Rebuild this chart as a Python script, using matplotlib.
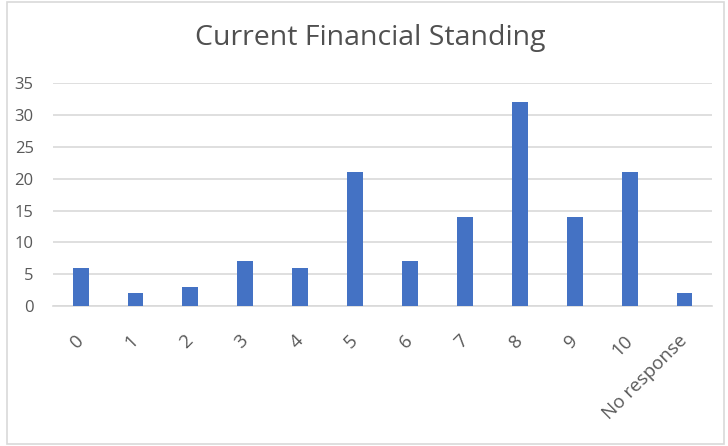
import matplotlib.pyplot as plt
from matplotlib.patches import Rectangle

# データ
categories = ["0", "1", "2", "3", "4", "5", "6", "7", "8", "9", "10", "No response"]
counts = [6, 2, 3, 7, 6, 21, 7, 14, 32, 14, 21, 2]
y_ticks = [0, 5, 10, 15, 20, 25, 30, 35]

bar_color = "#4472C4"
text_color = "#595959"
grid_color = "#D9D9D9"

plt.rcParams["font.family"] = ["Open Sans", "DejaVu Sans"]


def draw_graph():
    fig = plt.figure(figsize=(7.28, 4.46), dpi=100)
    ax = fig.add_axes([0.073, 0.314, 0.905, 0.499])

    x = list(range(len(categories)))
    ax.bar(x, counts, width=0.29, color=bar_color, zorder=3)

    ax.set_xlim(-0.5, len(categories) - 0.5)
    ax.set_ylim(0, 35)
    ax.set_yticks(y_ticks)
    ax.yaxis.grid(True, color=grid_color, linewidth=1.2, zorder=0)

    for side in ["top", "right", "left"]:
        ax.spines[side].set_visible(False)
    ax.spines["bottom"].set_color(grid_color)
    ax.spines["bottom"].set_linewidth(1.2)

    ax.tick_params(axis="both", length=0, colors=text_color, labelsize=12)
    ax.tick_params(axis="y", pad=14)
    ax.set_xticks(x)
    ax.set_xticklabels(categories, rotation=45, ha="right", va="center",
                       rotation_mode="anchor", fontsize=13.5)
    ax.tick_params(axis="x", pad=23)

    fig.text(0.508, 0.915, "Current Financial Standing", ha="center", va="center",
             fontsize=20.5, color="#505050")

    # 枠線
    fig.patches.append(Rectangle((0.009, 0.004), 0.986, 0.991, transform=fig.transFigure,
                                 fill=False, edgecolor=grid_color, linewidth=1.2))

    fig.savefig("out.png", dpi=100)


def main():
    draw_graph()


if __name__ == "__main__":
    main()
